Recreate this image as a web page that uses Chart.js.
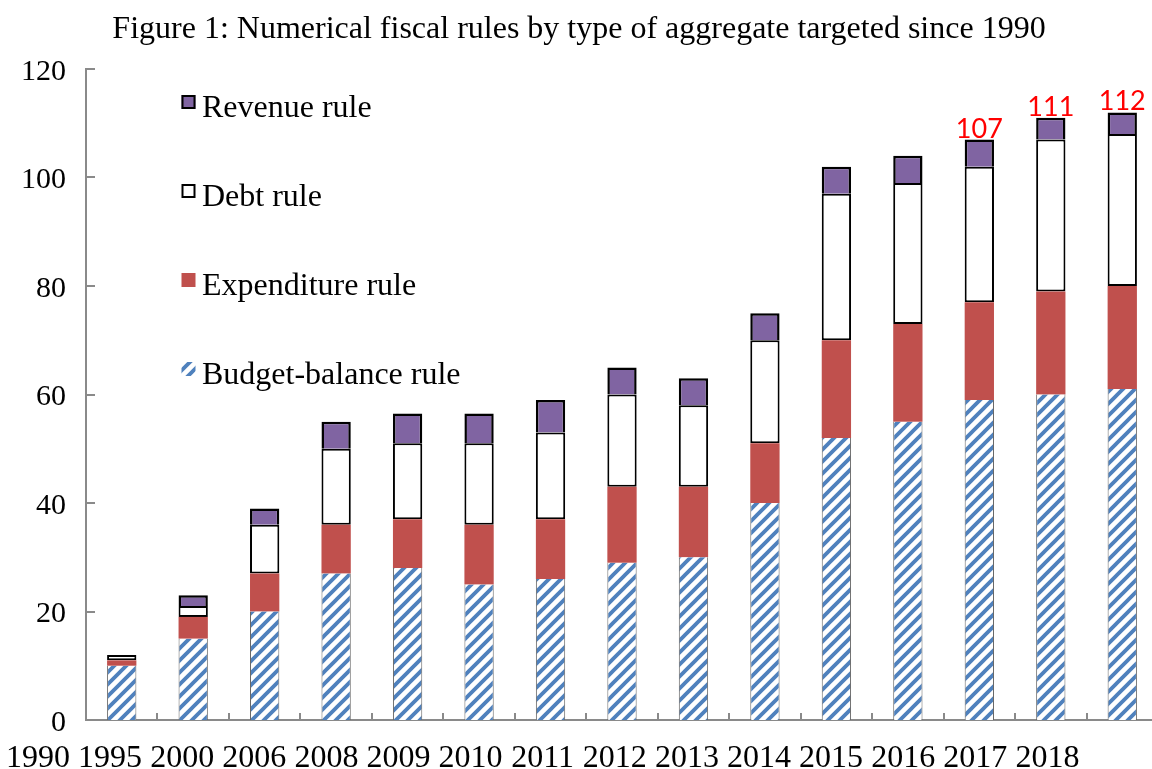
<!DOCTYPE html>
<html>
<head>
<meta charset="utf-8">
<script src="https://cdn.jsdelivr.net/npm/chart.js@4.4.0/dist/chart.umd.min.js"></script>
<style>
html,body{margin:0;padding:0;background:#fff;overflow:hidden;}
canvas{display:block;}
</style>
</head>
<body>
<canvas id="c" width="1158" height="769"></canvas>
<script>
// ---- data ----
const yearLabels = ['1990','1995','2000','2006','2008','2009','2010','2011','2012','2013','2014','2015','2016','2017','2018'];
const budgetBalance = [10,15,20,27,28,25,26,29,30,40,52,55,59,60,61];
const expenditure   = [1,4,7,9,9,11,11,14,13,11,18,18,18,19,19];
const debt          = [1,2,9,14,14,15,16,17,15,19,27,26,25,28,28];
const revenue       = [0,2,3,5,5.5,5.5,6,5,5,5,5,5,5,4,4];
const totalLabels   = ['','','','','','','','','','','','','107','111','112'];
const seriesNames   = ['Budget-balance rule','Expenditure rule','Debt rule','Revenue rule'];
const titleText = 'Figure 1: Numerical fiscal rules by type of aggregate targeted since 1990';

// ---- styles ----
const AXIS = '#8a8a8a';
const BLUE = '#4F81BD';
const RED = '#C0504D';
const PURPLE = '#8064A2';
const SERIF = '"Liberation Serif", "Times New Roman", serif';

const canvas = document.getElementById('c');
const ctx0 = canvas.getContext('2d');

function makeHatch() {
  const s = 12;
  const c = document.createElement('canvas');
  c.width = s; c.height = s;
  const g = c.getContext('2d');
  g.fillStyle = '#fff';
  g.fillRect(0, 0, s, s);
  g.strokeStyle = BLUE;
  g.lineWidth = 3.8;
  g.beginPath();
  g.moveTo(0, s); g.lineTo(s, 0);
  g.moveTo(-s/2, s/2); g.lineTo(s/2, -s/2);
  g.moveTo(s/2, s*1.5); g.lineTo(s*1.5, s/2);
  g.stroke();
  return ctx0.createPattern(c, 'repeat');
}
const hatch = makeHatch();

const insideLegend = {
  id: 'insideLegend',
  afterDraw(chart, args, o) {
    const ctx = chart.ctx;
    const ds = chart.data.datasets.slice().reverse();
    ctx.save();
    ds.forEach((d, i) => {
      const bx = o.x, by = o.y + i * o.spacing;
      ctx.fillStyle = d.backgroundColor;
      ctx.fillRect(bx, by, o.box, o.box);
      if (d.legendBorder) {
        ctx.strokeStyle = '#000';
        ctx.lineWidth = 2;
        ctx.strokeRect(bx + 1, by + 1, o.box - 2, o.box - 2);
      }
      ctx.fillStyle = '#000';
      ctx.font = o.font;
      ctx.textAlign = 'left';
      ctx.textBaseline = 'alphabetic';
      ctx.fillText(d.label, bx + o.box + 6.5, by + o.baseline);
    });
    ctx.restore();
  }
};

const totals = {
  id: 'totals',
  afterDatasetsDraw(chart) {
    const ctx = chart.ctx;
    const meta = chart.getDatasetMeta(chart.data.datasets.length - 1);
    ctx.save();
    ctx.fillStyle = '#FF0000';
    ctx.font = '27px Lato, "Open Sans", sans-serif';
    ctx.textAlign = 'center';
    ctx.textBaseline = 'alphabetic';
    totalLabels.forEach((t, i) => {
      if (!t) return;
      const el = meta.data[i];
      ctx.fillText(t, el.x, el.y - 2);
    });
    ctx.restore();
  }
};

const axisTicks = {
  id: 'axisTicks',
  afterDraw(chart) {
    const {ctx, chartArea: a, scales: {x, y}} = chart;
    ctx.save();
    ctx.strokeStyle = AXIS;
    ctx.lineWidth = 2;
    ctx.beginPath();
    y.ticks.forEach(t => {
      const py = Math.round(y.getPixelForValue(t.value));
      ctx.moveTo(a.left, py); ctx.lineTo(a.left + 9, py);
    });
    for (let i = 1; i <= x.ticks.length; i++) {
      const px = Math.round(x.getPixelForValue(i - 0.5));
      ctx.moveTo(px, a.bottom); ctx.lineTo(px, a.bottom - 7);
    }
    ctx.stroke();
    ctx.restore();
  }
};

new Chart(canvas, {
  type: 'bar',
  data: {
    labels: yearLabels,
    datasets: [
      { label: seriesNames[0], data: budgetBalance, backgroundColor: hatch,
        borderColor: '#666', borderWidth: {left: 1, right: 1, top: 0, bottom: 0}, borderSkipped: false },
      { label: seriesNames[1], data: expenditure, backgroundColor: RED, borderWidth: 0 },
      { label: seriesNames[2], data: debt, backgroundColor: '#fff', borderColor: '#000',
        borderWidth: 2, borderSkipped: false, legendBorder: true },
      { label: seriesNames[3], data: revenue, backgroundColor: PURPLE, borderColor: '#000',
        borderWidth: {left: 2.5, right: 2.5, top: 2.5, bottom: 0}, borderSkipped: false, legendBorder: true }
    ]
  },
  options: {
    responsive: false,
    animation: false,
    events: [],
    layout: { padding: 0 },
    datasets: { bar: { barPercentage: 0.41, categoryPercentage: 1.0 } },
    plugins: {
      legend: { display: false },
      tooltip: { enabled: false },
      title: {
        display: true, text: titleText, color: '#000',
        font: { family: SERIF, size: 32, weight: 'normal' },
        padding: { top: 10, bottom: 20.6 }
      },
      insideLegend: { x: 181.5, y: 95, spacing: 89, box: 14, baseline: 22, font: '32px ' + SERIF }
    },
    scales: {
      x: {
        type: 'category', stacked: true, offset: true, weight: 0,
        grid: { display: false, drawTicks: false, tickLength: 0 },
        ticks: { display: false },
        border: { display: true, color: AXIS, width: 2 },
        afterFit: s => { s.height = 0; }
      },
      xl: {
        type: 'linear', position: 'bottom', weight: 1, offset: false,
        min: 0.6657, max: 15.534,
        grid: { display: false, drawTicks: false, tickLength: 0, offset: false },
        border: { display: false },
        ticks: {
          autoSkip: false, maxRotation: 0, minRotation: 0, padding: 19, color: '#000',
          font: { family: SERIF, size: 32 },
          callback: (v, i) => yearLabels[i]
        },
        afterBuildTicks: s => { s.ticks = yearLabels.map((_, i) => ({ value: i })); },
        afterFit: s => { s.height = 49; s.paddingLeft = 0; s.paddingRight = 0; }
      },
      y: {
        type: 'linear', stacked: true, min: 0, max: 120,
        grid: { display: false, drawTicks: false, tickLength: 0 },
        border: { display: true, color: AXIS, width: 2 },
        ticks: { stepSize: 20, padding: 20, labelOffset: 3, color: '#000', font: { family: SERIF, size: 30 } },
        afterFit: s => { s.width = 86; }
      }
    }
  },
  plugins: [insideLegend, totals, axisTicks]
});
</script>
</body>
</html>
